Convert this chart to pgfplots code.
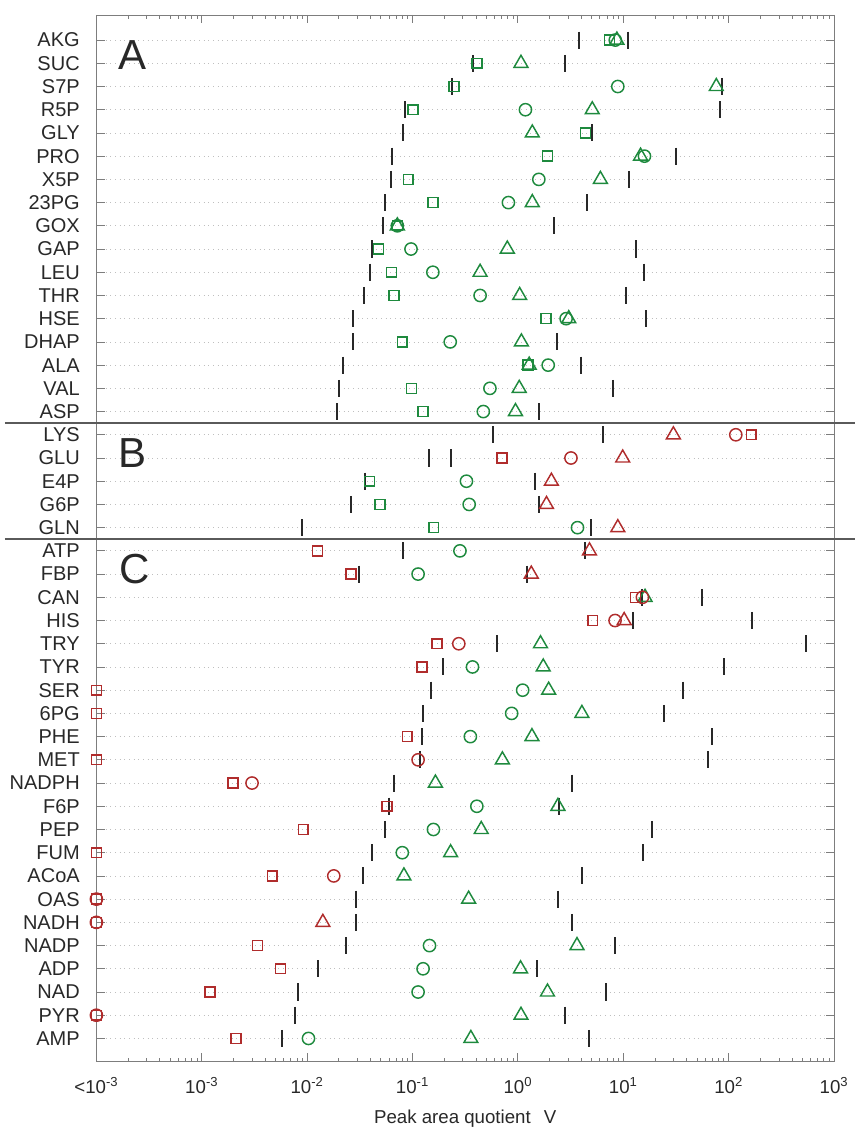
\documentclass[border=0pt]{standalone}
\usepackage{fontspec}
\setmainfont{Liberation Sans}
\usepackage{pgfplots}
\pgfplotsset{compat=1.18}
\definecolor{mgreen}{RGB}{30,138,62}
\definecolor{mred}{RGB}{176,44,44}
\definecolor{mbar}{RGB}{40,40,40}
\definecolor{frm}{RGB}{125,125,125}
\definecolor{sep}{RGB}{90,90,90}
\definecolor{txt}{RGB}{40,40,40}
\begin{document}
\begin{tikzpicture}
\begin{axis}[
  scale only axis, width=553.2pt, height=785pt,
  xmode=log, xmin=1e-4, xmax=1e3, ymin=0, ymax=45.08,
  clip=false,
  axis line style={frm, line width=0.7pt},
  xtick={1e-4,1e-3,1e-2,1e-1,1,10,100,1000},
  xticklabels={{<10\textsuperscript{-3}},{10\textsuperscript{-3}},{10\textsuperscript{-2}},{10\textsuperscript{-1}},{10\textsuperscript{0}},{10\textsuperscript{1}},{10\textsuperscript{2}},{10\textsuperscript{3}}},
  minor xtick={2e-4,3e-4,4e-4,5e-4,6e-4,7e-4,8e-4,9e-4,
               2e-3,3e-3,4e-3,5e-3,6e-3,7e-3,8e-3,9e-3,
               2e-2,3e-2,4e-2,5e-2,6e-2,7e-2,8e-2,9e-2,
               2e-1,3e-1,4e-1,5e-1,6e-1,7e-1,8e-1,9e-1,
               2,3,4,5,6,7,8,9,20,30,40,50,60,70,80,90,
               200,300,400,500,600,700,800,900},
  ytick={1,...,44},
  yticklabels={AMP,PYR,NAD,ADP,NADP,NADH,OAS,ACoA,FUM,PEP,F6P,NADPH,MET,PHE,6PG,SER,TYR,TRY,HIS,CAN,FBP,ATP,GLN,G6P,E4P,GLU,LYS,ASP,VAL,ALA,DHAP,HSE,THR,LEU,GAP,GOX,23PG,X5P,PRO,GLY,R5P,S7P,SUC,AKG},
  tick align=inside,
  xtick pos=both, ytick pos=both,
  major tick length=6.3pt, minor tick length=3pt,
  every tick/.style={frm, line width=0.6pt},
  ymajorgrids,
  major grid style={gray!50, line width=0.6pt, dash pattern=on 0.7pt off 2.8pt},
  yticklabel style={anchor=east, inner sep=0pt, xshift=-12.3pt, font=\fontsize{15}{17}\selectfont, text=txt},
  xticklabel style={anchor=base, inner sep=0pt, yshift=-23.8pt, font=\fontsize{14}{16}\selectfont, text=txt},
  xlabel={Peak area quotient\hspace{0.7em}V},
  xlabel style={at={(axis description cs:0.5,0)}, anchor=base, yshift=-46.7pt, inner sep=0pt, font=\fontsize{14}{16}\selectfont, text=txt},
]
\coordinate (sw) at (rel axis cs:0,0);
\coordinate (ne) at (rel axis cs:1,1);
\draw[sep, line width=1.5pt] (axis description cs:-0.124,0.61003) -- (axis description cs:1.05,0.61003);
\draw[sep, line width=1.5pt] (axis description cs:-0.124,0.49911) -- (axis description cs:1.05,0.49911);
\node[font=\fontsize{31.5}{36}\selectfont, inner sep=0pt, text=txt] at (rel axis cs:0.0496,0.9616) {A};
\node[font=\fontsize{31.5}{36}\selectfont, inner sep=0pt, text=txt] at (rel axis cs:0.0483,0.5812) {B};
\node[font=\fontsize{31.5}{36}\selectfont, inner sep=0pt, text=txt] at (rel axis cs:0.0520,0.4703) {C};

% black bars (range limits)
\addplot[only marks, mark=|, mark size=6.4pt, mbar, mark options={line width=1.5pt}] coordinates {
(3.77,44) (11.0,44) (0.371,43) (2.80,43) (0.239,42) (86,42) (0.084,41) (83,41)
(0.081,40) (5.01,40) (0.0638,39) (31.7,39) (0.0623,38) (11.4,38) (0.0553,37) (4.51,37)
(0.0521,36) (2.21,36) (0.0416,35) (13.1,35) (0.0396,34) (15.7,34) (0.0344,33) (10.6,33)
(0.0271,32) (16.3,32) (0.0271,31) (2.37,31) (0.0219,30) (4.0,30) (0.0199,29) (8.07,29)
(0.0190,28) (1.60,28) (0.583,27) (6.44,27) (0.143,26) (0.233,26) (0.0352,25) (1.46,25)
(0.0258,24) (1.60,24) (0.00886,23) (4.90,23) (0.081,22) (4.35,22) (0.0312,21) (1.22,21)
(15.2,20) (56.1,20) (12.4,19) (167,19) (0.634,18) (544,18) (0.195,17) (90.2,17)
(0.150,16) (36.6,16) (0.126,15) (24.1,15) (0.124,14) (70.3,14) (0.117,13) (64,13)
(0.0669,12) (3.23,12) (0.060,11) (2.45,11) (0.0547,10) (18.6,10) (0.0411,9) (15.3,9)
(0.034,8) (4.10,8) (0.0288,7) (2.40,7) (0.0291,6) (3.27,6) (0.0232,5) (8.27,5)
(0.0127,4) (1.53,4) (0.00815,3) (6.92,3) (0.00759,2) (2.80,2) (0.00577,1) (4.73,1)
};

% green squares
\addplot[only marks, mark=square, mark size=3.7pt, mgreen, mark options={line width=1.1pt}] coordinates {
(7.4,44) (0.408,43) (0.248,42) (0.101,41) (4.40,40) (1.91,39) (0.0912,38) (0.156,37)
(0.0718,36) (0.0474,35) (0.063,34) (0.0669,33) (1.85,32) (0.080,31) (1.25,30) (0.098,29)
(0.126,28) (0.0392,25) (0.0491,24) (0.159,23)
};
% green circles
\addplot[only marks, mark=o, mark size=4.6pt, mgreen, mark options={line width=1.1pt}] coordinates {
(8.4,44) (8.88,42) (1.18,41) (15.9,39) (1.58,38) (0.813,37)
(0.0718,36) (0.0968,35) (0.156,34) (0.438,33) (2.87,32) (0.228,31) (1.94,30) (0.543,29)
(0.470,28) (0.325,25) (0.345,24) (3.68,23)
(0.282,22) (0.113,21) (0.371,17) (1.11,16) (0.873,15) (0.354,14) (0.408,11) (0.158,10)
(0.080,9) (0.145,5) (0.126,4) (0.113,3) (0.0103,1)
};
% green triangles
\addplot[only marks, mark=triangle, mark size=6pt, mgreen, mark options={line width=1.1pt}] coordinates {
(8.7,44) (1.07,43) (76.4,42) (5.08,41) (1.37,40) (14.6,39) (6.07,38) (1.37,37)
(0.0718,36) (0.794,35) (0.438,34) (1.04,33) (3.04,32) (1.08,31) (1.28,30) (1.03,29)
(0.949,28)
(16.1,20) (1.64,18) (1.74,17) (1.96,16) (4.05,15) (1.36,14) (0.713,13) (0.165,12)
(2.40,11) (0.449,10) (0.230,9) (0.0829,8) (0.341,7) (3.64,5) (1.06,4) (1.91,3)
(1.07,2) (0.358,1)
};
% red squares
\addplot[only marks, mark=square, mark size=3.7pt, mred, mark options={line width=1.1pt}] coordinates {
(164,27) (0.705,26) (0.0125,22) (0.0261,21) (13.1,20) (5.14,19) (0.171,18) (0.123,17)
(1e-4,16) (1e-4,15) (0.089,14) (1e-4,13) (0.00198,12) (0.0573,11) (0.00918,10) (1e-4,9)
(0.00466,8) (1e-4,7) (1e-4,6) (0.00338,5) (0.00557,4) (0.00120,3) (1e-4,2) (0.00212,1)
};
% red circles
\addplot[only marks, mark=o, mark size=4.6pt, mred, mark options={line width=1.1pt}] coordinates {
(117,27) (3.19,26) (15.2,20) (8.36,19) (0.275,18) (0.113,13) (0.0030,12) (0.0179,8)
(1e-4,7) (1e-4,6) (1e-4,2)
};
% red triangles
\addplot[only marks, mark=triangle, mark size=6pt, mred, mark options={line width=1.1pt}] coordinates {
(29.9,27) (9.88,26) (2.08,25) (1.87,24) (8.88,23) (4.78,22) (1.34,21) (10.2,19)
(0.0141,6)
};
\end{axis}
\pgfresetboundingbox
\path ([xshift=-72.3pt,yshift=-50.5pt]sw) rectangle ([xshift=15pt,yshift=11.25pt]ne);
\end{tikzpicture}
\end{document}
